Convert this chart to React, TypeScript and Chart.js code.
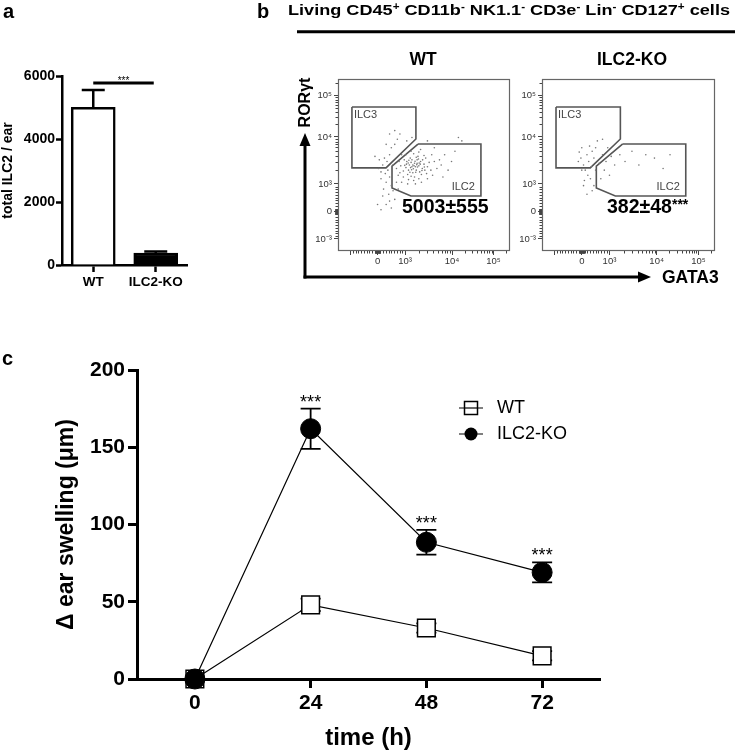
import React, { useEffect, useRef } from "react";
import { Chart, registerables } from "chart.js";

Chart.register(...registerables);

const FONT = "'Liberation Sans', Arial, Helvetica, sans-serif";

// ---------- Panel a : total ILC2 per ear ----------
const barCategories = ["WT", "ILC2-KO"];
const barValues = [5003, 382];
const barErrors = [555, 48];
const barFills = ["#ffffff", "#000000"];
const barYTicks = [0, 2000, 4000, 6000];
const barSigLevel = 5780;
const barSigLabel = "***";

// ---------- Panel b : flow cytometry (channel units 0..1000) ----------
const flowTickChannels = [70, 230, 390, 663, 904];
const flowYTickLabels = ["10⁻³", "0", "10³", "10⁴", "10⁵"];
const flowXTickLabels = ["", "0", "10³", "10⁴", "10⁵"];
const gateILC3: [number, number][] = [
  [81, 837], [453, 837], [453, 651], [279, 483], [81, 483], [81, 837],
];
const gateILC2: [number, number][] = [
  [465, 622], [831, 622], [831, 320], [424, 320], [314, 366], [314, 494], [465, 622],
];
const wtCells: [number, number][] = [
  [400, 520], [420, 540], [445, 510], [460, 530], [430, 490], [410, 470], [470, 495], [455, 470], [435, 455], [480, 520],
  [500, 505], [490, 480], [465, 550], [440, 565], [415, 500], [395, 485], [425, 515], [450, 490], [475, 460], [510, 540],
  [520, 490], [385, 530], [405, 445], [445, 430], [485, 445], [430, 530], [460, 510], [438, 478], [418, 458], [492, 530],
  [505, 470], [530, 515], [455, 545], [398, 505], [470, 575], [380, 465], [425, 435], [500, 555], [540, 470], [560, 520],
  [515, 450], [470, 420], [440, 410], [410, 415], [380, 430], [365, 495], [360, 455], [395, 560], [425, 580], [480, 590],
  [545, 560], [575, 480], [590, 530], [600, 500], [550, 440], [520, 420], [485, 400], [450, 390], [405, 390], [370, 400],
  [350, 440], [340, 480], [355, 520], [370, 560], [620, 560], [640, 470], [660, 520], [610, 430],
  [300, 560], [285, 520], [270, 540], [310, 600], [260, 500], [240, 530], [290, 470], [320, 500], [275, 450], [250, 460],
  [300, 430], [310, 380], [280, 400], [265, 360], [295, 330], [320, 350], [330, 300], [300, 290], [250, 420], [235, 480],
  [215, 550], [330, 620], [345, 650], [360, 680], [300, 680], [280, 620], [330, 700],
  [280, 270], [310, 250], [260, 320], [350, 360], [340, 400], [400, 640], [430, 660], [700, 660], [720, 640], [680, 580],
  [520, 640], [560, 600], [230, 270], [250, 240], [435, 500], [448, 522], [462, 488], [428, 472], [452, 458], [478, 505],
  [412, 528], [388, 498], [502, 488], [468, 535], [442, 495], [458, 502], [422, 485], [472, 512], [488, 468], [408, 512],
];
const koCells: [number, number][] = [
  [210, 520], [225, 540], [240, 500], [260, 560], [250, 470], [270, 520], [285, 490], [230, 470], [300, 540], [290, 580],
  [310, 600], [275, 610], [320, 640], [265, 440], [245, 410], [280, 420], [300, 380], [290, 350], [260, 330], [310, 470],
  [330, 510], [350, 560], [370, 520], [360, 470], [380, 600], [400, 550], [420, 500], [390, 440], [450, 560], [480, 520],
  [520, 580], [560, 500], [600, 560], [650, 540], [740, 560], [700, 480], [230, 600], [215, 575], [350, 650], [340, 420],
  [240, 380],
];

// ---------- Panel c : ear swelling ----------
const timeHours = [0, 24, 48, 72];
const wtSwelling = [0, 48, 33, 15];
const wtSwellingErr = [0, 4, 3, 3];
const koSwelling = [0, 162, 88.5, 69];
const koSwellingErr = [0, 13, 8, 6.5];
const koSignificance = ["", "***", "***", "***"];
const swellingYTicks = [0, 50, 100, 150, 200];

// minor ticks of the biexponential display (derived from the major tick anchors)
function buildFlowMinorTicks(): number[] {
  const out: number[] = [];
  const zero = flowTickChannels[1];
  const lin = (flowTickChannels[2] - zero) / 1000;
  for (let k = 1; k <= 9; k++) {
    out.push(zero + k * 100 * lin, zero - k * 100 * lin, zero + k * 10 * lin, zero - k * 10 * lin);
  }
  for (let d = 2; d < flowTickChannels.length - 1; d++) {
    const a = flowTickChannels[d], b = flowTickChannels[d + 1];
    for (let m = 2; m <= 9; m++) out.push(a + Math.log10(m) * (b - a));
  }
  const last = flowTickChannels[4] - flowTickChannels[3];
  for (let m = 2; m <= 9; m++) {
    const c = flowTickChannels[4] + Math.log10(m) * last;
    if (c < 1000) out.push(c);
  }
  return out;
}
const flowMinorTicks = buildFlowMinorTicks();

const baseOptions = {
  animation: false as const,
  responsive: false,
  devicePixelRatio: 1,
  events: [] as any[],
  plugins: { legend: { display: false }, tooltip: { enabled: false } },
};

function ChartCanvas({ left, top, width, height, make }: { left: number; top: number; width: number; height: number; make: () => any }) {
  const ref = useRef<HTMLCanvasElement>(null);
  useEffect(() => {
    const chart = new Chart(ref.current as HTMLCanvasElement, make());
    return () => chart.destroy();
  }, []);
  return (
    <canvas
      ref={ref}
      width={width}
      height={height}
      style={{ position: "absolute", left, top, width, height }}
    />
  );
}

// ---------- Panel a config ----------
const barPlugin = {
  id: "barExtras",
  afterDatasetsDraw(chart: any) {
    const { ctx } = chart;
    const y = chart.scales.y;
    const meta = chart.getDatasetMeta(0);
    ctx.save();
    ctx.strokeStyle = "#000";
    ctx.lineWidth = 2.5;
    meta.data.forEach((bar: any, i: number) => {
      const top = y.getPixelForValue(barValues[i] + barErrors[i]);
      const base = y.getPixelForValue(barValues[i]);
      ctx.beginPath();
      ctx.moveTo(bar.x, base);
      ctx.lineTo(bar.x, top);
      ctx.moveTo(bar.x - 11.5, top);
      ctx.lineTo(bar.x + 11.5, top);
      ctx.stroke();
    });
    const sy = y.getPixelForValue(barSigLevel);
    const x0 = meta.data[0].x;
    const x1 = meta.data[1].x - 2;
    ctx.lineWidth = 3;
    ctx.beginPath();
    ctx.moveTo(x0, sy);
    ctx.lineTo(x1, sy);
    ctx.stroke();
    ctx.fillStyle = "#000";
    ctx.font = `10px ${FONT}`;
    ctx.textAlign = "center";
    ctx.textBaseline = "alphabetic";
    ctx.fillText(barSigLabel, (x0 + x1) / 2, sy + 1);
    ctx.restore();
  },
};

function makeBar() {
  return {
    type: "bar",
    data: {
      labels: barCategories,
      datasets: [
        {
          data: barValues,
          backgroundColor: barFills,
          borderColor: "#000",
          borderWidth: 2.5,
          barThickness: 44,
        },
      ],
    },
    options: {
      ...baseOptions,
      layout: { padding: { left: 0, top: 76, right: 13, bottom: 0 } },
      scales: {
        x: {
          afterFit: (s: any) => { s.height = 35; },
          grid: { display: true, drawOnChartArea: false, offset: false, tickLength: 7, tickWidth: 2.5, tickColor: "#000" },
          border: { display: true, width: 2.5, color: "#000" },
          ticks: { color: "#000", padding: 2, font: { family: FONT, size: 13.5, weight: "bold" } },
        },
        y: {
          min: 0,
          max: 6000,
          afterFit: (s: any) => { s.width = 62; },
          afterBuildTicks: (s: any) => { s.ticks = barYTicks.map((v) => ({ value: v })); },
          grid: { display: true, drawOnChartArea: false, tickLength: 6, tickWidth: 2.5, tickColor: "#000" },
          border: { display: true, width: 2.5, color: "#000" },
          ticks: {
            color: "#000",
            padding: 1,
            font: { family: FONT, size: 14, weight: "bold" },
            callback: (v: any) => String(v),
          },
          title: {
            display: true,
            text: "total ILC2 / ear",
            color: "#000",
            padding: { top: 0, bottom: 0 },
            font: { family: FONT, size: 14, weight: "bold" },
          },
        },
      },
    },
    plugins: [barPlugin],
  };
}

// ---------- Panel b config ----------
const flowPlugin = {
  id: "flowExtras",
  afterDatasetsDraw(chart: any) {
    const { ctx, chartArea: a } = chart;
    const x = chart.scales.x;
    const y = chart.scales.y;
    ctx.save();
    ctx.strokeStyle = "#666";
    ctx.lineWidth = 1.2;
    ctx.strokeRect(a.left + 0.5, a.top + 0.5, a.width - 1, a.height - 1);
    ctx.strokeStyle = "#444";
    ctx.lineWidth = 1;
    ctx.beginPath();
    for (const c of flowMinorTicks) {
      const px = Math.round(x.getPixelForValue(c)) + 0.5;
      ctx.moveTo(px, a.bottom);
      ctx.lineTo(px, a.bottom + 2.5);
      const py = Math.round(y.getPixelForValue(c)) + 0.5;
      ctx.moveTo(a.left, py);
      ctx.lineTo(a.left - 2.5, py);
    }
    ctx.stroke();
    ctx.fillStyle = "#444";
    ctx.font = `11px ${FONT}`;
    ctx.textBaseline = "middle";
    ctx.textAlign = "left";
    ctx.fillText("ILC3", x.getPixelForValue(gateILC3[0][0]) + 2, y.getPixelForValue(gateILC3[0][1]) + 8);
    ctx.textAlign = "right";
    ctx.fillText("ILC2", x.getPixelForValue(gateILC2[2][0]) - 6, y.getPixelForValue(gateILC2[2][1]) - 9);
    ctx.restore();
  },
};

function makeFlow(cells: [number, number][], rightPad: number) {
  const gate = (g: [number, number][]) => ({
    type: "scatter",
    data: g.map(([x, y]) => ({ x, y })),
    showLine: true,
    borderColor: "#555",
    borderWidth: 1.6,
    pointRadius: 0,
    fill: false,
    tension: 0,
  });
  const axisCommon = {
    type: "linear",
    min: 0,
    max: 1000,
    afterBuildTicks: (s: any) => { s.ticks = flowTickChannels.map((v) => ({ value: v })); },
    grid: { display: true, drawOnChartArea: false, tickLength: 4, tickWidth: 1, tickColor: "#444" },
    border: { display: false },
  };
  return {
    type: "scatter",
    data: {
      datasets: [
        {
          data: cells.map(([x, y]) => ({ x, y })),
          pointRadius: 0.8,
          pointBackgroundColor: "#777",
          pointBorderWidth: 0,
        },
        gate(gateILC3),
        gate(gateILC2),
      ],
    },
    options: {
      ...baseOptions,
      layout: { padding: { left: 0, top: 9, right: rightPad, bottom: 0 } },
      scales: {
        x: {
          ...axisCommon,
          afterFit: (s: any) => { s.height = 19; },
          ticks: {
            autoSkip: false,
            maxRotation: 0,
            padding: 1,
            color: "#333",
            font: { family: FONT, size: 9.5 },
            callback: (_v: any, i: number) => flowXTickLabels[i],
          },
        },
        y: {
          ...axisCommon,
          afterFit: (s: any) => { s.width = 48; },
          ticks: {
            autoSkip: false,
            padding: 2,
            color: "#333",
            font: { family: FONT, size: 9.5 },
            callback: (_v: any, i: number) => flowYTickLabels[i],
          },
        },
      },
    },
    plugins: [flowPlugin],
  };
}

// ---------- Panel c config ----------
const swellPlugin = {
  id: "swellExtras",
  beforeDatasetsDraw(chart: any) {
    const { ctx } = chart;
    const x = chart.scales.x;
    const y = chart.scales.y;
    ctx.save();
    ctx.strokeStyle = "#000";
    ctx.lineWidth = 1.8;
    const draw = (vals: number[], errs: number[]) =>
      vals.forEach((v, i) => {
        if (!errs[i]) return;
        const px = x.getPixelForValue(timeHours[i]);
        const t = y.getPixelForValue(v + errs[i]);
        const b = y.getPixelForValue(v - errs[i]);
        ctx.beginPath();
        ctx.moveTo(px, t);
        ctx.lineTo(px, b);
        ctx.moveTo(px - 10, t);
        ctx.lineTo(px + 10, t);
        ctx.moveTo(px - 10, b);
        ctx.lineTo(px + 10, b);
        ctx.stroke();
      });
    draw(wtSwelling, wtSwellingErr);
    draw(koSwelling, koSwellingErr);
    ctx.restore();
  },
  afterDatasetsDraw(chart: any) {
    const { ctx, chartArea: a } = chart;
    const x = chart.scales.x;
    const y = chart.scales.y;
    ctx.save();
    ctx.fillStyle = "#000";
    ctx.font = `18px ${FONT}`;
    ctx.textAlign = "center";
    ctx.textBaseline = "alphabetic";
    koSignificance.forEach((s, i) => {
      if (!s) return;
      ctx.fillText(s, x.getPixelForValue(timeHours[i]), y.getPixelForValue(koSwelling[i] + koSwellingErr[i]) - 1);
    });
    // legend
    const lx = a.left + 334;
    const ly1 = a.top + 38;
    const ly2 = ly1 + 26;
    ctx.strokeStyle = "#000";
    ctx.lineWidth = 1.2;
    ctx.beginPath();
    ctx.moveTo(lx - 12, ly1);
    ctx.lineTo(lx + 12, ly1);
    ctx.moveTo(lx - 12, ly2);
    ctx.lineTo(lx + 12, ly2);
    ctx.stroke();
    ctx.fillStyle = "#fff";
    ctx.lineWidth = 1.5;
    ctx.fillRect(lx - 6.5, ly1 - 6.5, 13, 13);
    ctx.strokeRect(lx - 6.5, ly1 - 6.5, 13, 13);
    ctx.beginPath();
    ctx.moveTo(lx - 6.5, ly1);
    ctx.lineTo(lx + 6.5, ly1);
    ctx.lineWidth = 1.2;
    ctx.stroke();
    ctx.fillStyle = "#000";
    ctx.beginPath();
    ctx.arc(lx, ly2, 6.5, 0, Math.PI * 2);
    ctx.fill();
    ctx.font = `18px ${FONT}`;
    ctx.textAlign = "left";
    ctx.textBaseline = "middle";
    ctx.fillText("WT", lx + 26, ly1);
    ctx.fillText("ILC2-KO", lx + 26, ly2);
    ctx.restore();
  },
};

function makeSwelling() {
  return {
    type: "line",
    data: {
      datasets: [
        {
          label: "ILC2-KO",
          data: timeHours.map((t, i) => ({ x: t, y: koSwelling[i] })),
          borderColor: "#000",
          borderWidth: 1.2,
          pointStyle: "circle",
          pointRadius: 10,
          pointBackgroundColor: "#000",
          pointBorderColor: "#000",
          pointBorderWidth: 1,
          tension: 0,
          order: 1,
          clip: false,
        },
        {
          label: "WT",
          data: timeHours.map((t, i) => ({ x: t, y: wtSwelling[i] })),
          borderColor: "#000",
          borderWidth: 1.2,
          pointStyle: "rect",
          pointRadius: 12.5,
          pointBackgroundColor: "#fff",
          pointBorderColor: "#000",
          pointBorderWidth: 1.5,
          tension: 0,
          order: 2,
          clip: false,
        },
      ],
    },
    options: {
      ...baseOptions,
      layout: { padding: { left: 0, top: 30, right: 135, bottom: 0 } },
      scales: {
        x: {
          type: "linear",
          min: -12,
          max: 84,
          afterFit: (s: any) => { s.height = 74; },
          afterBuildTicks: (s: any) => { s.ticks = timeHours.map((v) => ({ value: v })); },
          grid: { display: true, drawOnChartArea: false, tickLength: 9, tickWidth: 3, tickColor: "#000" },
          border: { display: true, width: 3, color: "#000" },
          ticks: { color: "#000", padding: 3, font: { family: FONT, size: 21, weight: "bold" } },
          title: {
            display: true,
            text: "time (h)",
            color: "#000",
            padding: { top: 0, bottom: 0 },
            font: { family: FONT, size: 24, weight: "bold" },
          },
        },
        y: {
          min: 0,
          max: 200,
          afterFit: (s: any) => { s.width = 137; },
          afterBuildTicks: (s: any) => { s.ticks = swellingYTicks.map((v) => ({ value: v })); },
          grid: { display: true, drawOnChartArea: false, tickLength: 9, tickWidth: 3, tickColor: "#000" },
          border: { display: true, width: 3, color: "#000" },
          ticks: { color: "#000", padding: 3, font: { family: FONT, size: 21, weight: "bold" } },
          title: {
            display: true,
            text: "Δ ear swelling (μm)",
            color: "#000",
            padding: { top: 53, bottom: 0 },
            font: { family: FONT, size: 23, weight: "bold" },
          },
        },
      },
    },
    plugins: [swellPlugin],
  };
}

export default function App() {
  const sup = { fontSize: 10 };
  return (
    <div style={{ position: "absolute", left: 0, top: 0, width: 735, height: 753, background: "#fff", overflow: "hidden" }}>
      <ChartCanvas left={0} top={0} width={200} height={300} make={makeBar} />
      <ChartCanvas left={290} top={70} width={230} height={200} make={() => makeFlow(wtCells, 10)} />
      <ChartCanvas left={494} top={70} width={230} height={200} make={() => makeFlow(koCells, 9)} />
      <ChartCanvas left={0} top={340} width={735} height={413} make={makeSwelling} />
      <svg width={735} height={753} style={{ position: "absolute", left: 0, top: 0, pointerEvents: "none" }} fontFamily={FONT}>
        <text x={3} y={18} fontSize={20} fontWeight="bold">a</text>
        <text x={257} y={18} fontSize={20} fontWeight="bold">b</text>
        <text x={2} y={365} fontSize={20} fontWeight="bold">c</text>
        <text x={288} y={15} fontSize={15.5} fontWeight="bold" textLength={442} lengthAdjust="spacingAndGlyphs">
          Living CD45<tspan dy={-5} style={sup}>+</tspan>
          <tspan dy={5}> CD11b</tspan><tspan dy={-5} style={sup}>-</tspan>
          <tspan dy={5}> NK1.1</tspan><tspan dy={-5} style={sup}>-</tspan>
          <tspan dy={5}> CD3e</tspan><tspan dy={-5} style={sup}>-</tspan>
          <tspan dy={5}> Lin</tspan><tspan dy={-5} style={sup}>-</tspan>
          <tspan dy={5}> CD127</tspan><tspan dy={-5} style={sup}>+</tspan>
          <tspan dy={5}> cells</tspan>
        </text>
        <line x1={297} y1={31.7} x2={735} y2={31.7} stroke="#000" strokeWidth={3} />
        <text x={423} y={65} fontSize={17.5} fontWeight="bold" textAnchor="middle">WT</text>
        <text x={632} y={65} fontSize={17.5} fontWeight="bold" textAnchor="middle">ILC2-KO</text>
        <text x={402} y={213} fontSize={19.5} fontWeight="bold">5003±555</text>
        <text x={607} y={213} fontSize={19.5} fontWeight="bold">
          382±48<tspan fontSize={14} dy={-4}>***</tspan>
        </text>
        <line x1={305} y1={278.5} x2={305} y2={143} stroke="#000" strokeWidth={3} />
        <polygon points="305,133 299.5,146 310.5,146" fill="#000" />
        <line x1={303.5} y1={277} x2={641} y2={277} stroke="#000" strokeWidth={3} />
        <polygon points="651,277 638,271.5 638,282.5" fill="#000" />
        <text x={662} y={283} fontSize={17.5} fontWeight="bold">GATA3</text>
        <text transform="translate(310,102.5) rotate(-90)" fontSize={16} fontWeight="bold" textAnchor="middle">RORγt</text>
      </svg>
    </div>
  );
}
